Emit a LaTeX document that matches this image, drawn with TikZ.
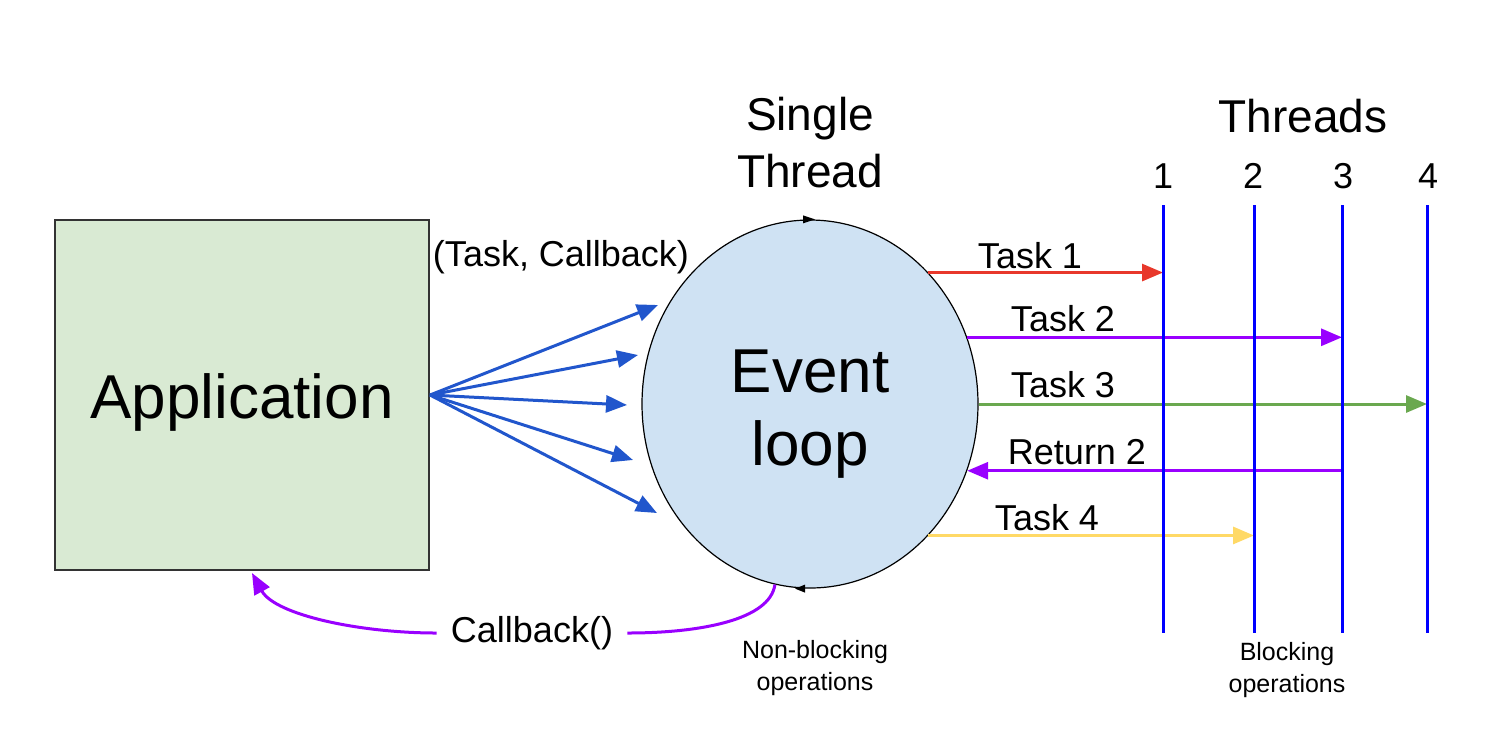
\documentclass[tikz,border=0pt]{standalone}
\usepackage{fontspec}
\setmainfont{Liberation Sans}
\usetikzlibrary{arrows.meta,shapes.geometric}
\definecolor{appfill}{HTML}{D9EAD3}
\definecolor{loopfill}{HTML}{CFE2F3}
\definecolor{fanblue}{HTML}{2156CC}
\definecolor{tred}{HTML}{E8382B}
\definecolor{tpurple}{HTML}{9900FF}
\definecolor{tgreen}{HTML}{6AA84F}
\definecolor{tyellow}{HTML}{FFD966}
\definecolor{thblue}{HTML}{0000FF}
\definecolor{boxline}{HTML}{333333}
\begin{document}
\begin{tikzpicture}[x=0.5pt,y=-0.5pt,
  txt/.style={inner sep=0pt, anchor=base},
  big/.style={font=\fontsize{31}{37}\selectfont},
  mid/.style={font=\fontsize{23}{28}\selectfont},
  lab/.style={font=\fontsize{18}{22}\selectfont},
  small/.style={font=\fontsize{12.5}{16}\selectfont},
  conn/.style={line width=1.5pt, -{Triangle[length=10.5pt,width=8.5pt]}},
  threadline/.style={thblue, line width=1.5pt},
]
\useasboundingbox (0,0) rectangle (1504,746);

% Application box
\node[draw=boxline, line width=1pt, fill=appfill, minimum width=187pt, minimum height=175pt,
      inner sep=0pt, big, text height=23pt, text depth=0pt] (app) at (242,395) {Application};

% Event loop
\node[ellipse, draw=black, line width=0.6pt, fill=loopfill, minimum width=168pt,
      minimum height=184pt, inner sep=0pt] (ev) at (810,404) {};
\node[txt, big] (evt) at (810,392) {Event};
\node[txt, big] (evl) at (810,465) {loop};
\fill (ev.north) ++(5,0) -- ++(-12,-4) -- ++(0,8) -- cycle;
\fill (ev.south) ++(-15,0) -- ++(10,-4) -- ++(0,8) -- cycle;

% titles
\node[txt, mid] (single) at (810,130) {Single};
\node[txt, mid] (thread) at (810,187) {Thread};
\node[txt, mid] (threads) at (1303,132) {Threads};
\node[txt, lab] (n1) at (1163,188) {1};
\node[txt, lab] (n2) at (1253,188) {2};
\node[txt, lab] (n3) at (1343,188) {3};
\node[txt, lab] (n4) at (1428,188) {4};

% thread line ends
\coordinate (th1) at (1163,205); \coordinate (th1b) at (1163,633);
\coordinate (th2) at (1254,205); \coordinate (th2b) at (1254,633);
\coordinate (th3) at (1342,205); \coordinate (th3b) at (1342,633);
\coordinate (th4) at (1427,205); \coordinate (th4b) at (1427,633);

% fan of (Task, Callback) arrows
\coordinate (f1) at (658,305);
\coordinate (f2) at (638,355);
\coordinate (f3) at (627,405);
\coordinate (f4) at (633,460);
\coordinate (f5) at (657,513);
\foreach \f in {f1,f2,f3,f4,f5} \draw[conn, fanblue] (app.east) -- (\f);
\node[txt, lab] (tc) at (561,266) {(Task, Callback)};

% tasks
\draw[conn, tred] (ev.48) -- (ev.48 -| th1);
\draw[conn, tpurple] (ev.23) -- (ev.23 -| th3);
\draw[conn, tgreen] (ev.east) -- (ev.east -| th4);
\draw[conn, tpurple] (ev.-23 -| th3) -- (ev.-23);
\draw[conn, tyellow] (ev.-48) -- (ev.-48 -| th2);

\node[txt, lab] (l1) at (1030,268) {Task 1};
\node[txt, lab] (l2) at (1063,331) {Task 2};
\node[txt, lab] (l3) at (1063,397) {Task 3};
\node[txt, lab] (l4) at (1077,464) {Return 2};
\node[txt, lab] (l5) at (1047,530) {Task 4};

% thread lines
\draw[threadline] (th1) -- (th1b);
\draw[threadline] (th2) -- (th2b);
\draw[threadline] (th3) -- (th3b);
\draw[threadline] (th4) -- (th4b);

% callback
\node[lab, minimum width=95pt, inner sep=0pt] (cb) at (532,633) {Callback()};
\coordinate (cbend) at (252,573);
\draw[tpurple, line width=1.5pt] (ev.259) .. controls (770,620) and (700,633) .. (cb.east);
\draw[conn, tpurple] (cb.west) .. controls (360,633) and (275,615) .. (cbend);

% bottom notes
\node[txt, small] (nb1) at (815,658) {Non-blocking};
\node[txt, small] (nb2) at (815,690) {operations};
\node[txt, small] (bl1) at (1287,660) {Blocking};
\node[txt, small] (bl2) at (1287,692) {operations};
\end{tikzpicture}
\end{document}
